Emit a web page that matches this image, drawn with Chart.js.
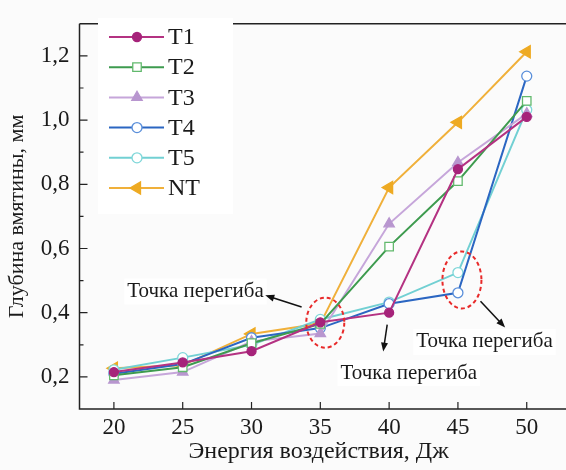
<!DOCTYPE html>
<html><head><meta charset="utf-8">
<script src="https://cdn.jsdelivr.net/npm/chart.js@4/dist/chart.umd.min.js"></script>
<style>html,body{margin:0;padding:0;background:#fbfbfb}#wrap{width:566px;height:470px}</style>
</head><body><div id="wrap"><canvas id="c" width="566" height="470"></canvas></div>
<script>
const energies = [20, 25, 30, 35, 40, 45, 50];
const seriesT1 = [0.215, 0.245, 0.28, 0.37, 0.40, 0.847, 1.01];
const seriesT2 = [0.205, 0.23, 0.305, 0.365, 0.606, 0.81, 1.06];
const seriesT3 = [0.19, 0.215, 0.31, 0.335, 0.677, 0.868, 1.02];
const seriesT4 = [0.21, 0.24, 0.322, 0.352, 0.428, 0.462, 1.137];
const seriesT5 = [0.222, 0.26, 0.30, 0.379, 0.433, 0.525, 1.032];
const seriesNT = [0.227, 0.236, 0.334, 0.366, 0.79, 0.993, 1.213];
const seriesNames = ['T1', 'T2', 'T3', 'T4', 'T5', 'NT'];
const xTicks = [20, 25, 30, 35, 40, 45, 50];
const yTicks = [0.2, 0.4, 0.6, 0.8, 1.0, 1.2];
const yMinorTicks = [0.3, 0.5, 0.7, 0.9, 1.1];
const xTitle = 'Энергия воздействия, Дж';
const yTitle = 'Глубина вмятины, мм';
const noteText = 'Точка перегиба';

const FONT = "'Liberation Serif', 'Times New Roman', serif";

const styles = [
  {line:'#b43282', fill:'#a6237a', border:'#a6237a', ps:'circle', r:4.5, rot:0},
  {line:'#3e9b4f', fill:'#ffffff', border:'#62b96d', ps:'rect', r:6, rot:0},
  {line:'#c6a6da', fill:'#b896cf', border:'#b896cf', ps:'triangle', r:6, rot:0},
  {line:'#2b66c2', fill:'#ffffff', border:'#5a8fda', ps:'circle', r:5, rot:0},
  {line:'#72d0d3', fill:'#ffffff', border:'#7fd7d9', ps:'circle', r:5, rot:0},
  {line:'#f0b03a', fill:'#eeaa22', border:'#eeaa22', ps:'triangle', r:7, rot:-90}
];
const allSeries = [seriesT1, seriesT2, seriesT3, seriesT4, seriesT5, seriesNT];

const datasets = allSeries.map((s, i) => ({
  label: seriesNames[i],
  data: energies.map((e, k) => ({x: e, y: s[k]})),
  borderColor: styles[i].line,
  borderWidth: 2,
  backgroundColor: styles[i].fill,
  pointBackgroundColor: styles[i].fill,
  pointBorderColor: styles[i].border,
  pointBorderWidth: 1.3,
  pointStyle: styles[i].ps,
  pointRadius: styles[i].r,
  pointRotation: styles[i].rot,
  tension: 0,
  fill: false
}));

// annotation layout (data coords for anchors)
const ellipses = [
  {x: 35.36, y: 0.369, rx: 19, ry: 25},
  {x: 45.29, y: 0.502, rx: 19.5, ry: 28.5}
];
const notes = [
  {x: 25.93, y: 0.466},
  {x: 41.43, y: 0.212},
  {x: 46.93, y: 0.309}
];
const arrows = [
  {x1: 33.64, y1: 0.4175, x2: 31.0, y2: 0.454},
  {x1: 39.86, y1: 0.363, x2: 39.57, y2: 0.279},
  {x1: 46.64, y1: 0.436, x2: 48.43, y2: 0.354}
];

const bgPlugin = {
  id: 'bg',
  beforeDraw(chart) {
    const ctx = chart.ctx;
    ctx.save();
    ctx.fillStyle = '#fbfbfb';
    ctx.fillRect(0, 0, chart.width, chart.height);
    ctx.restore();
  }
};

const framePlugin = {
  id: 'frame',
  afterDraw(chart) {
    const ctx = chart.ctx, a = chart.chartArea;
    const xs = chart.scales.x, ys = chart.scales.y;
    ctx.save();
    ctx.strokeStyle = '#222';
    ctx.lineWidth = 1.5;
    ctx.beginPath();
    ctx.moveTo(a.left, a.top); ctx.lineTo(chart.width, a.top);
    ctx.moveTo(a.left, a.top); ctx.lineTo(a.left, a.bottom);
    ctx.lineTo(chart.width, a.bottom);
    ctx.stroke();
    ctx.lineWidth = 1.2;
    ctx.beginPath();
    yTicks.forEach(v => { const p = ys.getPixelForValue(v); ctx.moveTo(a.left, p); ctx.lineTo(a.left + 8, p); });
    yMinorTicks.forEach(v => { const p = ys.getPixelForValue(v); ctx.moveTo(a.left, p); ctx.lineTo(a.left + 4, p); });
    xTicks.forEach(v => { const p = xs.getPixelForValue(v); ctx.moveTo(p, a.bottom); ctx.lineTo(p, a.bottom - 7); });
    ctx.stroke();
    ctx.restore();
  }
};

function arrow(ctx, x1, y1, x2, y2) {
  const ang = Math.atan2(y2 - y1, x2 - x1);
  const hl = 9, hw = 3.5;
  ctx.beginPath();
  ctx.moveTo(x1, y1);
  ctx.lineTo(x2 - Math.cos(ang) * hl * 0.8, y2 - Math.sin(ang) * hl * 0.8);
  ctx.stroke();
  ctx.beginPath();
  ctx.moveTo(x2, y2);
  ctx.lineTo(x2 - Math.cos(ang) * hl - Math.sin(ang) * hw, y2 - Math.sin(ang) * hl + Math.cos(ang) * hw);
  ctx.lineTo(x2 - Math.cos(ang) * hl + Math.sin(ang) * hw, y2 - Math.sin(ang) * hl - Math.cos(ang) * hw);
  ctx.closePath();
  ctx.fill();
}

const annotPlugin = {
  id: 'annot',
  afterDatasetsDraw(chart) {
    const ctx = chart.ctx;
    const xs = chart.scales.x, ys = chart.scales.y;
    ctx.save();
    ctx.strokeStyle = '#e82a2a';
    ctx.lineWidth = 2;
    ctx.setLineDash([4, 3]);
    ellipses.forEach(e => {
      ctx.beginPath();
      ctx.ellipse(xs.getPixelForValue(e.x), ys.getPixelForValue(e.y), e.rx, e.ry, 0, 0, Math.PI * 2);
      ctx.stroke();
    });
    ctx.setLineDash([]);
    ctx.font = '21px ' + FONT;
    ctx.textAlign = 'center';
    ctx.textBaseline = 'middle';
    notes.forEach(n => {
      const px = xs.getPixelForValue(n.x), py = ys.getPixelForValue(n.y);
      const w = ctx.measureText(noteText).width;
      ctx.fillStyle = '#ffffff';
      ctx.fillRect(px - w / 2 - 3, py - 13, w + 6, 26);
      ctx.fillStyle = '#1a1a1a';
      ctx.fillText(noteText, px, py);
    });
    ctx.strokeStyle = '#111';
    ctx.fillStyle = '#111';
    ctx.lineWidth = 1.5;
    arrows.forEach(r => {
      arrow(ctx, xs.getPixelForValue(r.x1), ys.getPixelForValue(r.y1), xs.getPixelForValue(r.x2), ys.getPixelForValue(r.y2));
    });
    ctx.restore();
  }
};

const legendPlugin = {
  id: 'customLegend',
  afterDraw(chart) {
    const ctx = chart.ctx;
    ctx.save();
    ctx.fillStyle = '#ffffff';
    ctx.fillRect(98, 18, 135, 196);
    chart.data.datasets.forEach((ds, i) => {
      const y = 37 + i * 30.2;
      ctx.strokeStyle = ds.borderColor;
      ctx.lineWidth = 2;
      ctx.beginPath(); ctx.moveTo(109, y); ctx.lineTo(164, y); ctx.stroke();
      ctx.fillStyle = ds.pointBackgroundColor;
      ctx.strokeStyle = ds.pointBorderColor;
      ctx.lineWidth = ds.pointBorderWidth;
      Chart.helpers.drawPoint(ctx, {pointStyle: ds.pointStyle, rotation: ds.pointRotation, radius: ds.pointRadius, borderWidth: ds.pointBorderWidth}, 137, y);
      ctx.fillStyle = '#1a1a1a';
      ctx.font = '24px ' + FONT;
      ctx.textAlign = 'left';
      ctx.textBaseline = 'middle';
      ctx.fillText(ds.label, 168, y + 1);
    });
    ctx.restore();
  }
};

new Chart(document.getElementById('c'), {
  type: 'line',
  data: {datasets},
  plugins: [bgPlugin, framePlugin, annotPlugin, legendPlugin],
  options: {
    responsive: false,
    animation: false,
    layout: {padding: {top: 12, right: 0, left: 0, bottom: 0}},
    plugins: {legend: {display: false}, tooltip: {enabled: false}},
    scales: {
      x: {
        type: 'linear', min: 17.5, max: 52.25,
        afterFit(s) { s.height = 61; },
        afterBuildTicks(s) { s.ticks = xTicks.map(v => ({value: v})); },
        grid: {display: false, drawTicks: false},
        border: {display: false},
        ticks: {padding: 5, color: '#1a1a1a', font: {family: FONT, size: 23}, maxRotation: 0, autoSkip: false},
        title: {display: true, text: xTitle, color: '#1a1a1a', font: {family: FONT, size: 24}, padding: {top: 1}}
      },
      y: {
        type: 'linear', min: 0.1, max: 1.3,
        afterFit(s) { s.width = 79.5; },
        afterBuildTicks(s) { s.ticks = yTicks.map(v => ({value: v})); },
        grid: {display: false, drawTicks: false},
        border: {display: false},
        ticks: {padding: 10, color: '#1a1a1a', font: {family: FONT, size: 23}, callback: v => v.toFixed(1).replace('.', ',')},
        title: {display: true, text: yTitle, color: '#1a1a1a', font: {family: FONT, size: 22}, padding: {bottom: 2}}
      }
    }
  }
});
</script>
</body></html>
